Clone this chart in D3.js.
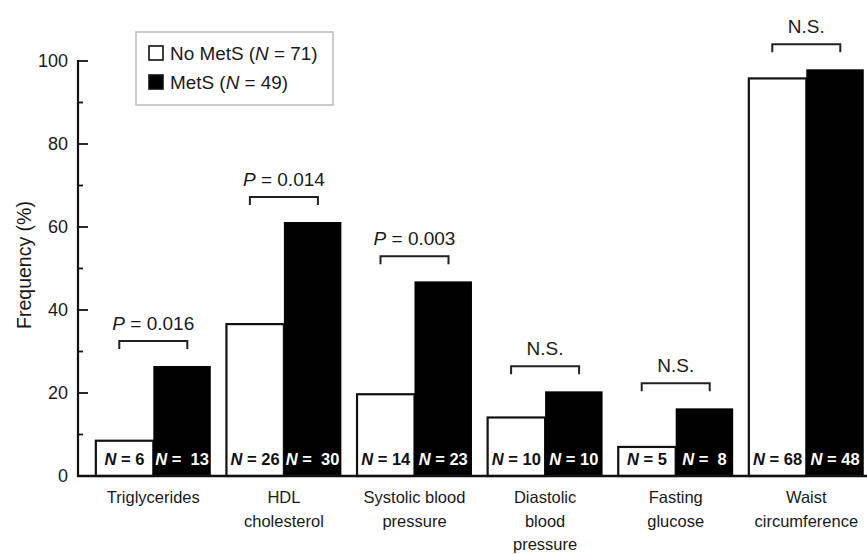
<!DOCTYPE html>
<html>
<head>
<meta charset="utf-8">
<script src="https://cdn.jsdelivr.net/npm/d3@7/dist/d3.min.js"></script>
<style>
  html, body { margin: 0; padding: 0; background: #fff; }
  svg { display: block; font-family: "Liberation Sans", Arial, Helvetica, sans-serif; }
</style>
</head>
<body>
<svg id="chart" width="867" height="554"></svg>
<script>
// Components of metabolic syndrome: share of patients (%) in each group
const categories = ["Triglycerides", "HDL cholesterol", "Systolic blood pressure",
                    "Diastolic blood pressure", "Fasting glucose", "Waist circumference"];
const categoryLines = [["Triglycerides"], ["HDL", "cholesterol"], ["Systolic blood", "pressure"],
                       ["Diastolic", "blood", "pressure"], ["Fasting", "glucose"], ["Waist", "circumference"]];
const seriesNames = ["No MetS", "MetS"];
const seriesTotals = [71, 49];
const noMetsPct = [8.5, 36.6, 19.7, 14.1, 7.0, 95.8];
const metsPct   = [26.5, 61.2, 46.9, 20.4, 16.3, 98.0];
const noMetsN   = [6, 26, 14, 10, 5, 68];
const metsN     = [13, 30, 23, 10, 8, 48];
const metsNPadded = [true, true, false, false, true, false];   // wider gap after "="
const pLabels   = ["0.016", "0.014", "0.003", null, null, null];   // null = N.S.
const yTicks    = [0, 20, 40, 60, 80, 100];
const yMinorTicks = [10, 30, 50, 70, 90];

const svg = d3.select("#chart");
const ink = "#111";
const textInk = "#1a1a1a";

const y = d3.scaleLinear().domain([0, 100]).range([476, 61]);
const x = d3.scaleBand().domain(categories).range([88, 871.6])
  .paddingInner(0.12).paddingOuter(0.06);
const xs = d3.scaleBand().domain(seriesNames).range([0, x.bandwidth()]).padding(0);

// y axis: labels from d3.axisLeft, ticks point inward
const yAxis = d3.axisLeft(y).tickValues(yTicks).tickSize(0).tickPadding(10);
const gy = svg.append("g").attr("transform", "translate(78,0)").call(yAxis);
gy.select(".domain").remove();
gy.selectAll("text").attr("font-size", 18).attr("fill", textInk)
  .attr("font-family", "Liberation Sans, Arial, sans-serif");
svg.append("line").attr("x1", 78).attr("x2", 78).attr("y1", y(100) - 1).attr("y2", y(0) + 1)
  .attr("stroke", ink).attr("stroke-width", 2.2);
svg.selectAll(".major").data(yTicks).join("line")
  .attr("x1", 78).attr("x2", 88).attr("y1", d => y(d)).attr("y2", d => y(d))
  .attr("stroke", ink).attr("stroke-width", 1.8);
svg.selectAll(".minor").data(yMinorTicks).join("line")
  .attr("x1", 78).attr("x2", 83).attr("y1", d => y(d)).attr("y2", d => y(d))
  .attr("stroke", ink).attr("stroke-width", 1.8);

// y axis title
svg.append("text").attr("transform", "translate(31,265) rotate(-90)")
  .attr("text-anchor", "middle").attr("font-size", 19.5).attr("fill", textInk)
  .text("Frequency (%)");

// bars
const rows = categories.map((c, i) => ({
  c, i, vals: [noMetsPct[i], metsPct[i]], ns: [noMetsN[i], metsN[i]]
}));
const groups = svg.selectAll(".grp").data(rows).join("g")
  .attr("transform", d => `translate(${x(d.c)},0)`);

groups.append("rect")
  .attr("x", xs("No MetS")).attr("width", xs.bandwidth())
  .attr("y", d => y(d.vals[0])).attr("height", d => y(0) - y(d.vals[0]))
  .attr("fill", "#fff").attr("stroke", ink).attr("stroke-width", 2.2);
groups.append("rect")
  .attr("x", xs("MetS")).attr("width", xs.bandwidth())
  .attr("y", d => y(d.vals[1])).attr("height", d => y(0) - y(d.vals[1]))
  .attr("fill", "#000");

// N labels inside bars
function nLabel(sel, idx, color) {
  const t = sel.append("text")
    .attr("x", xs(seriesNames[idx]) + xs.bandwidth() / 2)
    .attr("y", 465).attr("text-anchor", "middle")
    .attr("font-size", 16.5).attr("font-weight", "bold").attr("fill", color);
  t.append("tspan").attr("font-style", "italic").text("N");
  t.append("tspan").text(d => (idx === 1 && metsNPadded[d.i] ? " =\u00a0 " : " = ") + d.ns[idx]);
}
nLabel(groups, 0, ink);
nLabel(groups, 1, "#fff");

// baseline
svg.append("line").attr("x1", 77).attr("x2", 867).attr("y1", y(0)).attr("y2", y(0))
  .attr("stroke", ink).attr("stroke-width", 2.4);

// category labels
groups.each(function (d) {
  const t = d3.select(this).append("text")
    .attr("x", x.bandwidth() / 2).attr("y", 503).attr("text-anchor", "middle")
    .attr("font-size", 16.5).attr("fill", textInk);
  categoryLines[d.i].forEach((ln, k) => {
    t.append("tspan").attr("x", x.bandwidth() / 2).attr("dy", k === 0 ? 0 : 23.5).text(ln);
  });
});

// significance brackets
groups.each(function (d) {
  const g = d3.select(this);
  const top = y(Math.max(...d.vals)) - 25;
  const cx = x.bandwidth() / 2, hw = 34;
  g.append("path")
    .attr("d", `M${cx - hw},${top + 8}V${top}H${cx + hw}V${top + 8}`)
    .attr("fill", "none").attr("stroke", "#222").attr("stroke-width", 2);
  const t = g.append("text").attr("x", cx).attr("y", top - 11)
    .attr("text-anchor", "middle").attr("font-size", 19).attr("fill", textInk);
  const p = pLabels[d.i];
  if (p) {
    t.append("tspan").attr("font-style", "italic").text("P");
    t.append("tspan").text(" = " + p);
  } else {
    t.text("N.S.");
  }
});

// legend
const lg = svg.append("g");
lg.append("rect").attr("x", 136).attr("y", 32).attr("width", 197).attr("height", 73)
  .attr("fill", "#fff").attr("stroke", "#bbb").attr("stroke-width", 1.5);
seriesNames.forEach((s, i) => {
  const yy = 46 + i * 29;
  lg.append("rect").attr("x", 149).attr("y", yy).attr("width", 14).attr("height", 14)
    .attr("fill", i === 0 ? "#fff" : "#000").attr("stroke", ink).attr("stroke-width", 1.6);
  const t = lg.append("text").attr("x", 170).attr("y", yy + 14)
    .attr("font-size", 18.9).attr("fill", textInk);
  t.append("tspan").text(s + " (");
  t.append("tspan").attr("font-style", "italic").text("N");
  t.append("tspan").text(" = " + seriesTotals[i] + ")");
});
</script>
</body>
</html>
